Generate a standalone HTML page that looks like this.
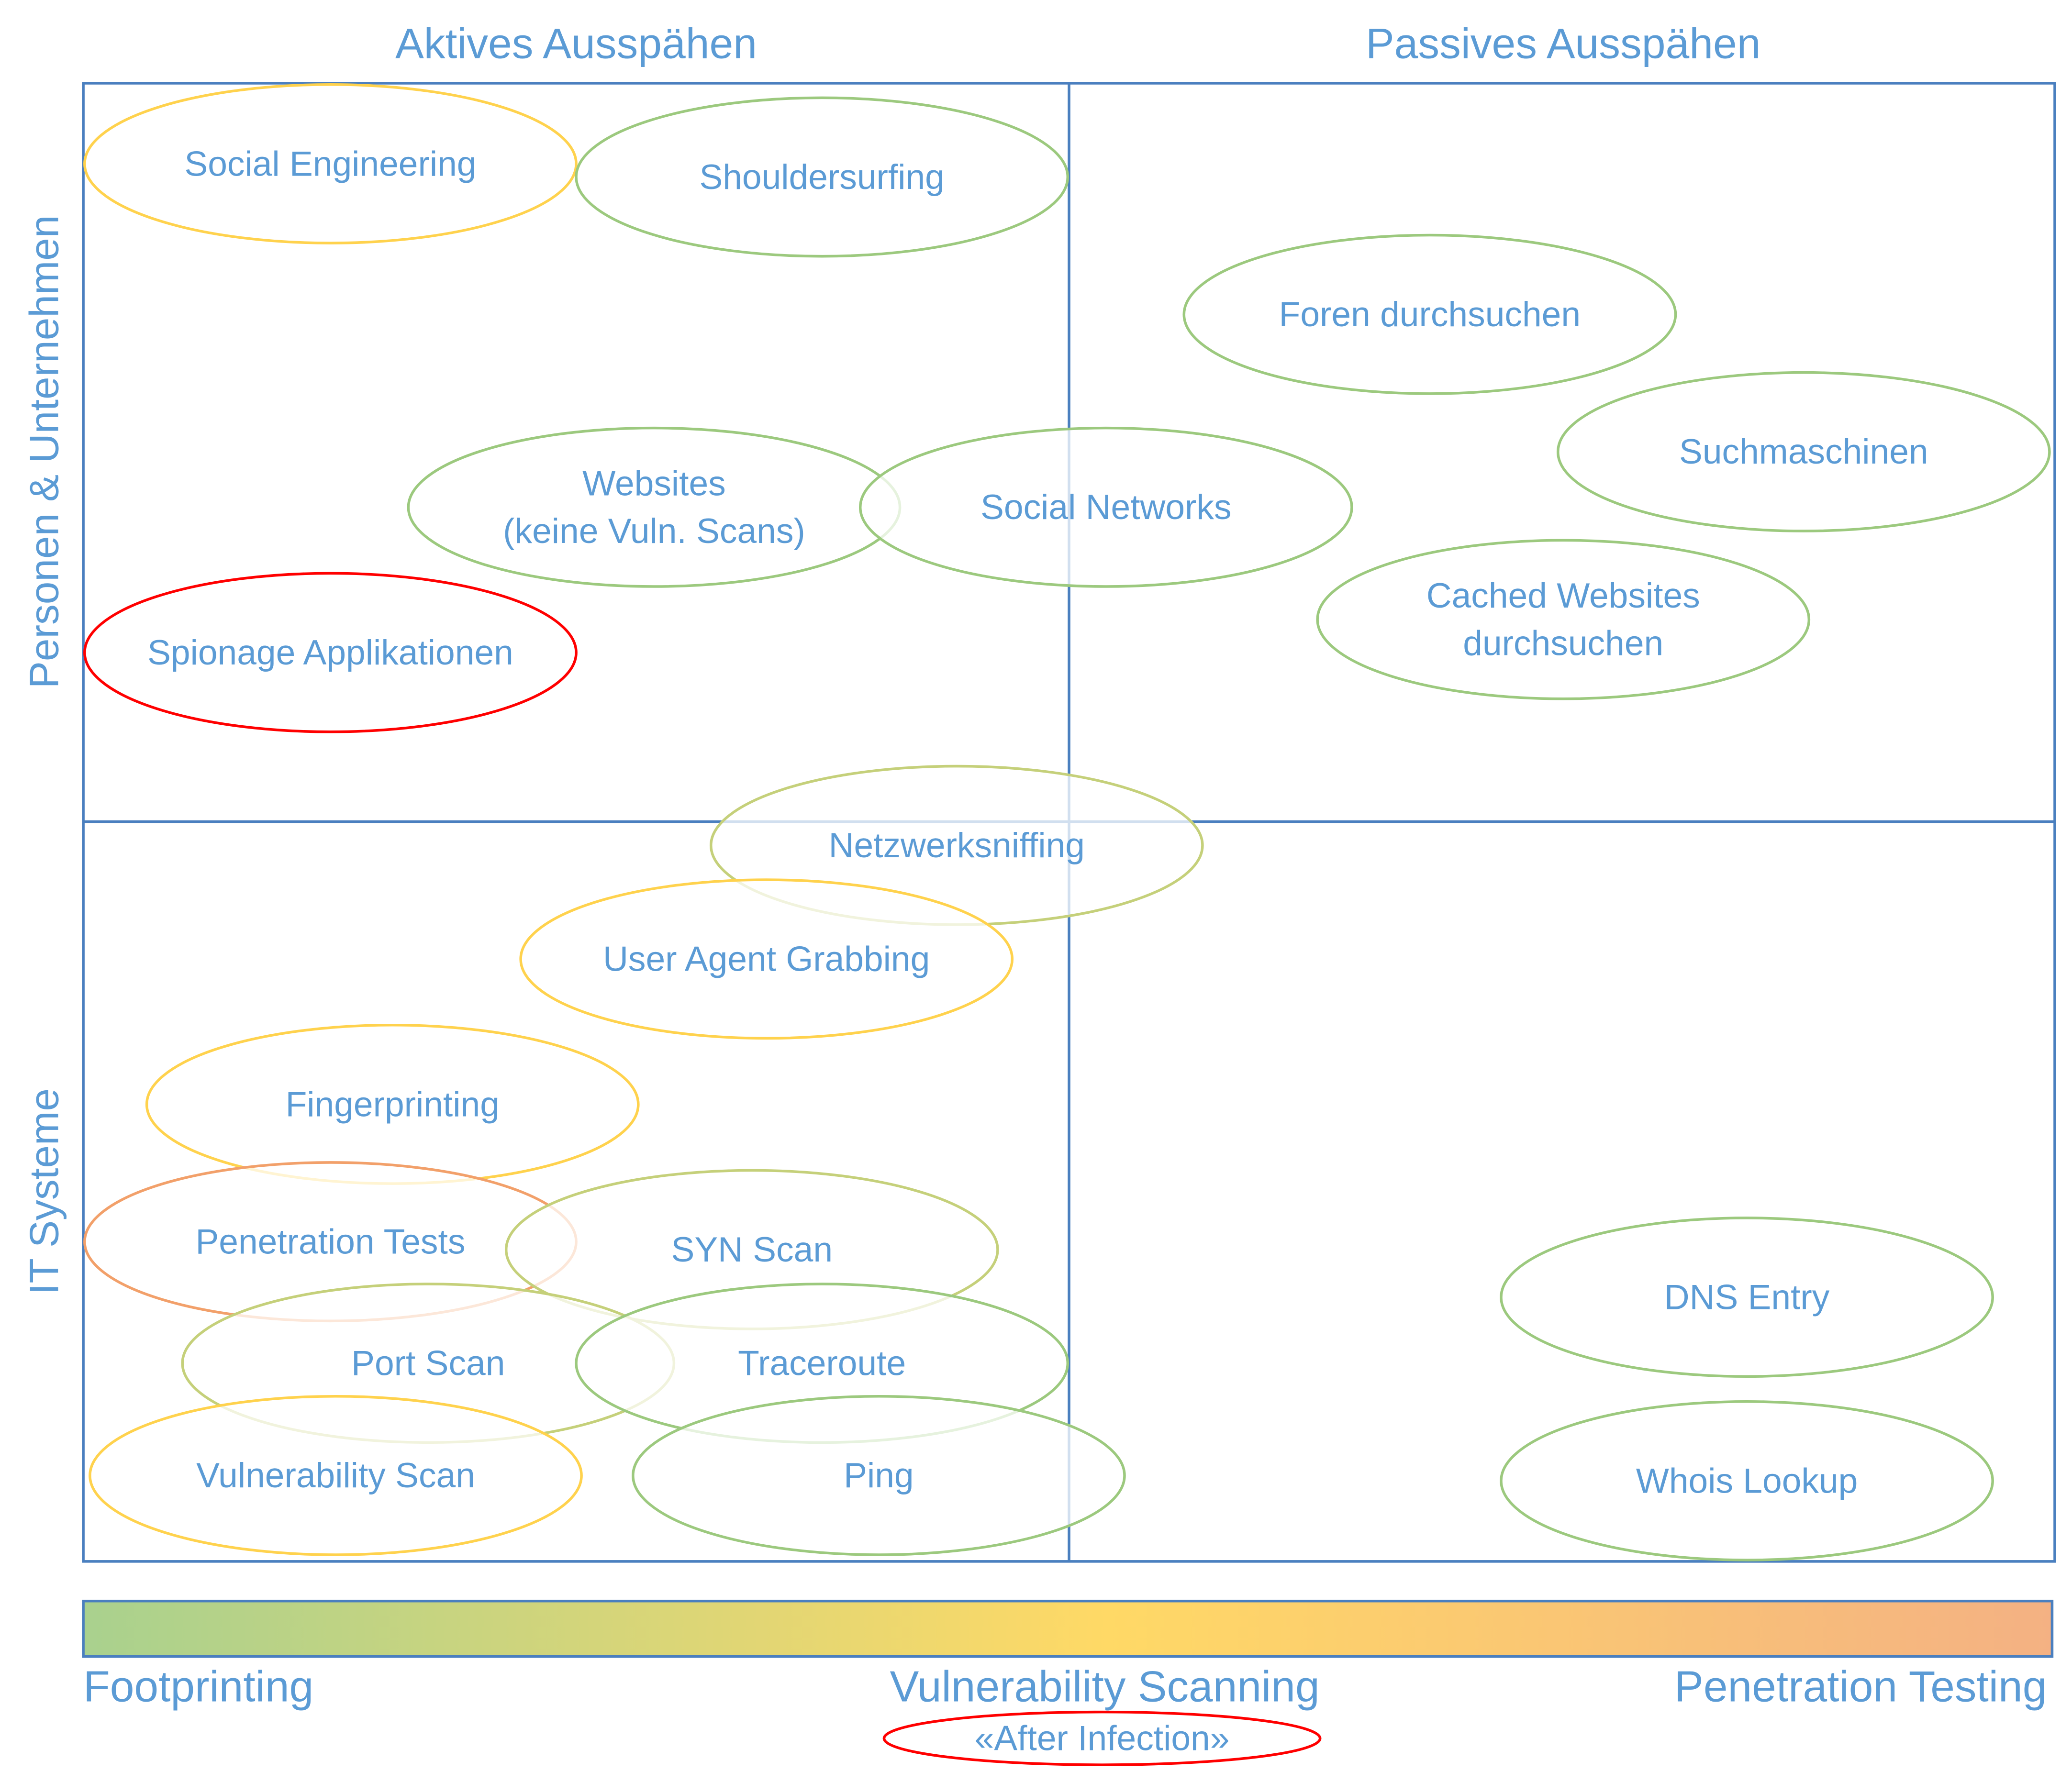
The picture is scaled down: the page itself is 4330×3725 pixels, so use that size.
<!DOCTYPE html>
<html><head><meta charset="utf-8"><style>
html,body{margin:0;padding:0;background:#fff;}
svg{display:block;}
text{font-family:"Liberation Sans",sans-serif;fill:#5b9bd5;}
</style></head><body>
<svg id="c" width="4330" height="3725" viewBox="0 0 1568 1349" xmlns="http://www.w3.org/2000/svg">
<defs>
<linearGradient id="g" x1="0" x2="1" y1="0" y2="0">
<stop offset="0" stop-color="#a9d18e"/>
<stop offset="0.52" stop-color="#ffd966"/>
<stop offset="1" stop-color="#f4b183"/>
</linearGradient>
</defs>
<text x="436" y="44" font-size="32.4" text-anchor="middle">Aktives Ausspähen</text>
<text x="1183" y="44" font-size="32.4" text-anchor="middle">Passives Ausspähen</text>
<text transform="translate(44,342) rotate(-90)" font-size="31" text-anchor="middle">Personen &amp; Unternehmen</text>
<text transform="translate(44,902) rotate(-90)" font-size="31" text-anchor="middle">IT Systeme</text>
<rect x="63" y="63" width="1492" height="1119" fill="none" stroke="#4a7fbf" stroke-width="2"/>
<line x1="809" y1="63" x2="809" y2="1182" stroke="#4a7fbf" stroke-width="2"/>
<line x1="63" y1="622" x2="1555" y2="622" stroke="#4a7fbf" stroke-width="2"/>
<g id="ells"></g>
<rect x="63" y="1212" width="1490" height="42" fill="url(#g)" stroke="#4a7fbf" stroke-width="2"/>
<text x="63" y="1288" font-size="33">Footprinting</text>
<text x="836" y="1288" font-size="33" text-anchor="middle">Vulnerability Scanning</text>
<text x="1549" y="1288" font-size="33" text-anchor="end">Penetration Testing</text>
<ellipse cx="834" cy="1316" rx="165" ry="20" fill="none" stroke="#ff0000" stroke-width="2"/>
<text x="834" y="1325" font-size="26.5" text-anchor="middle">«After Infection»</text>
</svg>
<script>
const labels=["Social Engineering","Shouldersurfing","Foren durchsuchen","Suchmaschinen","Websites|(keine Vuln. Scans)","Social Networks","Cached Websites|durchsuchen","Spionage Applikationen","Netzwerksniffing","User Agent Grabbing","Fingerprinting","Penetration Tests","SYN Scan","Port Scan","Traceroute","Vulnerability Scan","Ping","DNS Entry","Whois Lookup"];
const cxs=[250,622,1082,1365,495,837,1183,250,724,580,297,250,569,324,622,254,665,1322,1322];
const cys=[124,134,238,342,384,384,469,494,640,726,836,940,946,1032,1032,1117,1117,982,1121];
const kinds=["y","g","g","g","g","g","g","r","yg","y","y","o","yg","yg","g","y","g","g","g"];
const colors={g:"#9cc97e",y:"#ffd24d",r:"#ff0000",o:"#f2a06a",yg:"#c5d07a"};
const grp=document.getElementById('ells');
const NS="http://www.w3.org/2000/svg";
labels.forEach((l,i)=>{
  const g=document.createElementNS(NS,'g');
  
  
  const e=document.createElementNS(NS,'ellipse');
  
  
  e.setAttribute('cx',cxs[i]);e.setAttribute('cy',cys[i]);
  e.setAttribute('rx',186);e.setAttribute('ry',60);
  e.setAttribute('fill','rgba(255,255,255,0.75)');
  e.setAttribute('stroke',colors[kinds[i]]);e.setAttribute('stroke-width',2);
  g.appendChild(e);
  const parts=l.split('|');
  parts.forEach((p,j)=>{
    const t=document.createElementNS(NS,'text');
    
    
    t.setAttribute('x',cxs[i]);
    t.setAttribute('y',cys[i]+9+(j-(parts.length-1)/2)*36);
    t.setAttribute('font-size',26.5);
    t.setAttribute('text-anchor','middle');
    t.textContent=p;
    g.appendChild(t);
  });
  grp.appendChild(g);
});
</script>
</body></html>
